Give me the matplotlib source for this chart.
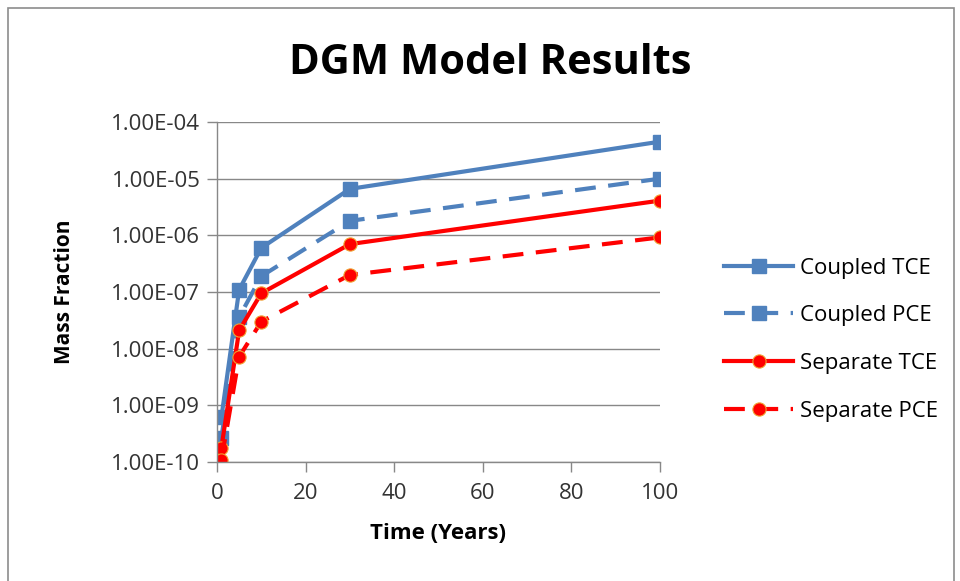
import numpy as np
import matplotlib.pyplot as plt
from matplotlib.patches import Rectangle
from matplotlib.ticker import FixedLocator, FuncFormatter

plt.rcParams['font.family'] = ['Open Sans', 'DejaVu Sans']

# model output, mass fraction vs time
time = [1, 5, 10, 30, 100]
coupled_tce = [6.2e-10, 1.1e-7, 6.0e-7, 6.6e-6, 4.5e-5]
coupled_pce = [2.7e-10, 3.6e-8, 1.9e-7, 1.8e-6, 1.0e-5]
separate_tce = [1.8e-10, 2.1e-8, 9.5e-8, 7.0e-7, 4.1e-6]
separate_pce = [1.1e-10, 7.2e-9, 3.0e-8, 2.0e-7, 9.2e-7]

blue = '#4F81BD'
red = '#FF0000'
grey = '#888888'

fig = plt.figure(figsize=(9.6, 5.81), dpi=100)
ax = fig.add_axes([217 / 960, 1 - 462 / 581, 443 / 960, 340 / 581])

lw = 3
ms = 9.5
ax.plot(time, coupled_tce, color=blue, lw=lw, marker='s', ms=ms,
        label='Coupled TCE')
ax.plot(time, coupled_pce, color=blue, lw=lw, marker='s', ms=ms,
        dashes=(5, 3), label='Coupled PCE')
ax.plot(time, separate_tce, color=red, lw=lw, marker='o', ms=ms,
        mec='#F0A030', mew=0.8, label='Separate TCE')
ax.plot(time, separate_pce, color=red, lw=lw, marker='o', ms=ms,
        mec='#F0A030', mew=0.8, dashes=(5, 3), label='Separate PCE')

ax.set_yscale('log')
ax.set_ylim(1e-10, 1e-4)
ax.set_xlim(0, 100)
ax.set_xticks([0, 20, 40, 60, 80, 100])
ax.yaxis.set_major_locator(FixedLocator([10.0 ** k for k in range(-10, -3)]))
ax.yaxis.set_minor_locator(FixedLocator([]))
ax.yaxis.set_major_formatter(FuncFormatter(lambda v, p: '%.2E' % v))

ax.grid(axis='y', color=grey, lw=1)
ax.set_axisbelow(True)
for side in ['top', 'right']:
    ax.spines[side].set_visible(False)
for side in ['left', 'bottom']:
    ax.spines[side].set_color(grey)
    ax.spines[side].set_linewidth(1)
ax.tick_params(axis='both', colors=grey, length=7, width=1, labelsize=16,
               labelcolor='#333333', pad=8)
ax.tick_params(axis='y', pad=5)

ax.set_xlabel('Time (Years)', fontsize=16, fontweight='bold', labelpad=14)
ax.set_ylabel('Mass Fraction', fontsize=15, fontweight='bold', labelpad=26)

fig.text(490 / 960, 1 - 63 / 581, 'DGM Model Results', fontsize=30,
         fontweight='bold', ha='center', va='center')

ax.legend(loc='center left', bbox_to_anchor=(1.1, 0.36), frameon=False,
          fontsize=16, handlelength=3.1, handletextpad=0.3,
          labelspacing=1.2)

# chart border
fig.patches.append(Rectangle((8 / 960, -0.05), 946 / 960, 1.05 - 8 / 581,
                             transform=fig.transFigure, fill=False,
                             edgecolor='#8C8C8C', lw=1.2))

fig.savefig('out.png', dpi=100)
